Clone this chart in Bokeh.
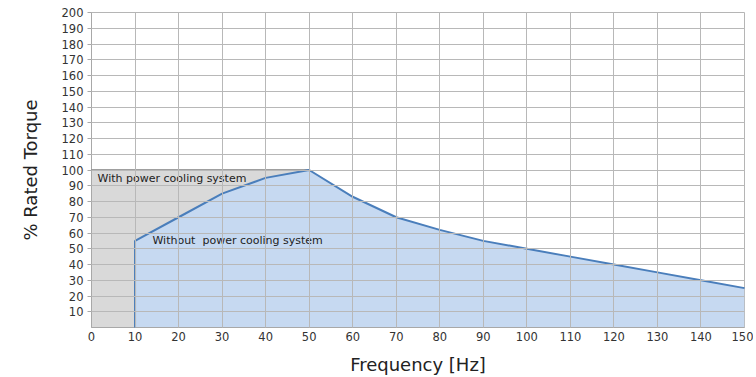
from bokeh.plotting import figure
from bokeh.models import Range1d, FixedTicker, Label
from bokeh.embed import file_html
from bokeh.resources import INLINE

# Data
freq = [10, 10, 20, 30, 40, 50, 60, 70, 80, 90, 100, 110, 120, 130, 140, 150]
torque = [0, 55, 70, 85, 95, 100, 83, 70, 62, 55, 50, 45, 40, 35, 30, 25]
cooled_freq = [0, 50]
cooled_torque = [100, 100]
x_ticks = list(range(0, 151, 10))
y_ticks = list(range(10, 201, 10))
label_cooled = "With power cooling system"
label_uncooled = "Without\u00a0 power cooling system"

p = figure(width=753, height=377, output_backend="svg", toolbar_location=None,
           x_range=Range1d(0, 150), y_range=Range1d(0, 200),
           min_border_left=91, min_border_right=9, min_border_top=12, min_border_bottom=46)
p.background_fill_color = "white"
p.border_fill_color = "white"
p.outline_line_color = "#b5b5b5"

# Regions
p.varea(x=cooled_freq, y1=[0, 0], y2=cooled_torque, fill_color="#d9d9d9")
p.varea(x=freq, y1=[0] * len(freq), y2=torque, fill_color="#c6d9f1")

# Grid above fills
for g in (p.xgrid, p.ygrid):
    g.grid_line_color = "#b8b8b8"
    g.grid_line_width = 1
    g.level = "overlay"
p.xgrid.ticker = FixedTicker(ticks=x_ticks)
p.ygrid.ticker = FixedTicker(ticks=y_ticks)

l1 = p.line(cooled_freq, cooled_torque, line_color="#7f7f7f", line_width=1.5)
l2 = p.line(freq, torque, line_color="#4a7ebb", line_width=2)
l1.level = "overlay"
l2.level = "overlay"

p.add_layout(Label(x=1.4, y=94.5, text=label_cooled, text_font="DejaVu Sans",
                   text_font_size="11px", text_color="#222222", text_baseline="middle"))
p.add_layout(Label(x=14, y=55.5, text=label_uncooled, text_font="DejaVu Sans",
                   text_font_size="11px", text_color="#222222", text_baseline="middle"))

# Axes
p.xaxis.ticker = FixedTicker(ticks=x_ticks)
p.yaxis.ticker = FixedTicker(ticks=y_ticks)
for ax in (p.xaxis, p.yaxis):
    ax.axis_line_color = "#a8a8a8"
    ax.major_tick_line_color = "#a8a8a8"
    ax.minor_tick_line_color = None
    ax.major_label_text_font = "DejaVu Sans"
    ax.major_label_text_font_size = "11.5px"
    ax.major_label_text_color = "#333333"
    ax.axis_label_text_font = "DejaVu Sans"
    ax.axis_label_text_font_size = "18px"
    ax.axis_label_text_font_style = "normal"
    ax.axis_label_text_color = "#222222"
p.xaxis.major_tick_in = 0
p.xaxis.major_tick_out = 0
p.xaxis.major_label_standoff = 4
p.yaxis.major_tick_in = 0
p.yaxis.major_tick_out = 4
p.yaxis.major_label_standoff = 4
p.xaxis.axis_label = "Frequency [Hz]"
p.yaxis.axis_label = "% Rated Torque"
p.xaxis.axis_label_standoff = 10
p.yaxis.axis_label_standoff = 18

open("out.html", "w").write(file_html(p, INLINE))
